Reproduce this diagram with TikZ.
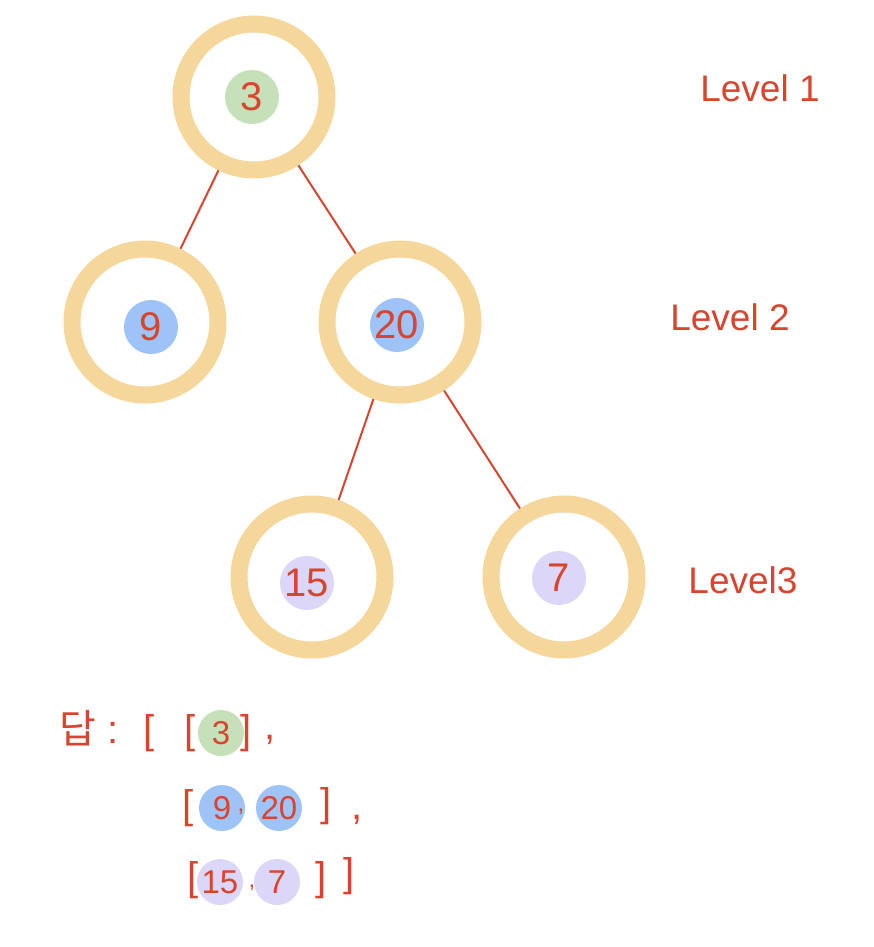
\documentclass[tikz,border=0pt]{standalone}
\usepackage{fontspec}
\setmainfont{Liberation Sans}
\newfontfamily\kr{Noto Sans CJK KR}
\definecolor{ringc}{HTML}{F6D79B}
\definecolor{inkred}{HTML}{D8452F}
\definecolor{gblob}{HTML}{C6E1B9}
\definecolor{bblob}{HTML}{9EC3F6}
\definecolor{pblob}{HTML}{DCD6F8}
\tikzset{
  ring/.style={circle,draw=ringc,line width=17pt,fill=white,minimum size=146pt,inner sep=0pt},
  blob/.style={circle,fill=#1,minimum size=54pt,inner sep=0pt,text=inkred,font=\fontsize{40}{40}\selectfont},
  sblob/.style={circle,fill=#1,minimum size=46pt,inner sep=0pt,text=inkred,font=\fontsize{33}{33}\selectfont},
  edge/.style={draw=inkred,line width=2pt},
  lvl/.style={text=inkred,font=\fontsize{37}{37}\selectfont,inner sep=0pt},
  ans/.style={text=inkred,font=\fontsize{40}{40}\selectfont,inner sep=0pt},
}
\begin{document}
\begin{tikzpicture}[x=1pt,y=-1pt]
\useasboundingbox (0,0) rectangle (873,947);
% rings
\node[ring] (r3) at (254,97) {};
\node[ring] (r9) at (145,322) {};
\node[ring] (r20) at (400,322) {};
\node[ring] (r15) at (312,577) {};
\node[ring] (r7) at (564,577) {};
% edges
\draw[edge] (r3) -- (r9);
\draw[edge] (r3) -- (r20);
\draw[edge] (r20) -- (r15);
\draw[edge] (r20) -- (r7);
% blobs with values
\node[blob=gblob] (b3) at (252,97) {3};
\node[blob=bblob] (b9) at (151,327) {9};
\node[blob=bblob] (b20) at (397,325) {20};
\node[blob=pblob] (b15) at (307,583) {15};
\node[blob=pblob] (b7) at (559,578) {7};
% level labels
\node[lvl] (l1) at (760,88) {Level 1};
\node[lvl] (l2) at (730,317) {Level 2};
\node[lvl] (l3) at (743,580) {Level3};
% answer
\node[ans,font=\kr\fontsize{40}{40}\selectfont] (dap) at (78,728) {답};
\node[ans] (colon) at (113,733) {:};
\node[ans] (o1) at (149,733) {[};
\node[ans] (o2) at (190,733) {[};
\node[sblob=gblob] (a3) at (221,733) {3};
\node[ans] (c2) at (246,733) {]};
\node[ans] (cm1) at (270,740) {,};
\node[ans] (o3) at (188,808) {[};
\node[sblob=bblob] (a9) at (222,808) {9};
\node[ans,font=\fontsize{24}{24}\selectfont] (cm2) at (241,812) {,};
\node[sblob=bblob] (a20) at (279,808) {20};
\node[ans] (c3) at (326,806) {]};
\node[ans] (cm3) at (357,820) {,};
\node[ans] (o4) at (193,880) {[};
\node[sblob=pblob] (a15) at (220,882) {15};
\node[ans,font=\fontsize{24}{24}\selectfont] (cm4) at (252,888) {,};
\node[sblob=pblob] (a7) at (277,882) {7};
\node[ans] (c4) at (321,880) {]};
\node[ans] (c1) at (349,876) {]};
\end{tikzpicture}
\end{document}
